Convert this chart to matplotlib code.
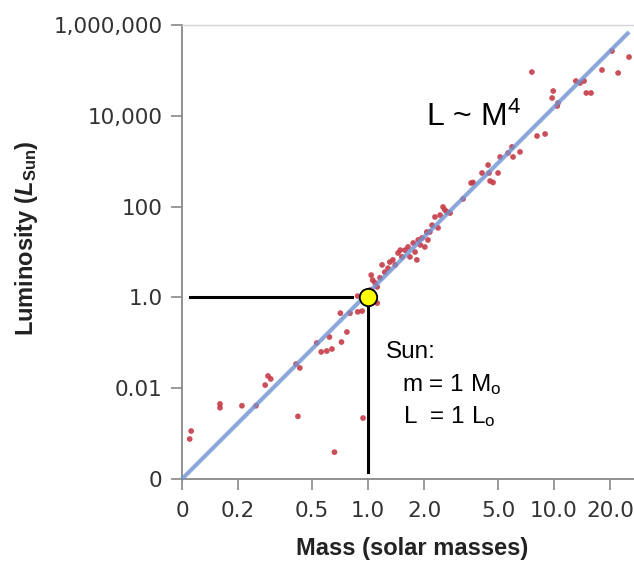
import matplotlib
matplotlib.use("Agg")
import matplotlib.pyplot as plt
from matplotlib.ticker import FixedLocator, NullLocator

# ── data (mass in solar masses, luminosity in L_sun) ──
star_mass = [
    0.112, 0.110, 0.16, 0.16, 0.21, 0.25, 0.28, 0.29, 0.30, 0.41, 0.43, 0.42,
    0.53, 0.56, 0.60, 0.62, 0.64, 0.66, 0.72, 0.77, 0.71, 0.80, 0.88, 0.93,
    0.94, 0.88, 1.12,
    1.04, 1.06, 1.09, 1.19, 1.23, 1.28, 1.36, 1.40, 1.45, 1.52, 1.58, 1.64,
    1.68, 1.75, 1.83, 1.86, 1.95, 2.02, 2.07, 2.21, 2.29, 2.44, 2.53, 2.59,
    2.38, 1.03, 1.12, 1.16, 1.31, 1.49, 1.79, 1.91, 2.15, 2.10,
    2.66, 2.76, 3.24, 3.58, 3.67, 4.10, 4.42, 4.47, 4.53, 4.70, 5.0, 5.13,
    5.66, 5.94, 6.02, 6.56, 8.1, 8.95,
    7.6, 9.9, 9.76, 10.4, 10.5, 13.1, 13.8, 14.5, 14.9, 15.8, 18.1, 20.5,
    22.1, 25.3,
]
star_lum = [
    1.14e-3, 7.6e-4, 4.5e-3, 3.7e-3, 4.1e-3, 4.1e-3, 1.17e-2, 1.86e-2, 1.6e-2,
    0.034, 0.028, 2.4e-3,
    0.099, 0.063, 0.066, 0.134, 0.073, 3.9e-4, 0.104, 0.173, 0.45, 0.45, 0.48,
    0.50, 2.2e-3, 1.07, 0.75,
    3.1, 2.4, 2.1, 5.2, 3.6, 4.4, 6.7, 5.2, 9.5, 7.8, 11, 12.9,
    7.8, 15.8, 6.7, 18.4, 20.3, 12.9, 27.6, 39, 59, 65, 98, 84,
    34, 1.46, 1.7, 2.7, 6.0, 11, 10, 14.3, 27.6, 18.4,
    76, 72, 147, 331, 340, 550, 824, 550, 366, 340, 550, 1240,
    1520, 2060, 1240, 1600, 3590, 3970,
    92000, 35200, 24700, 16400, 19100, 58400, 52700, 58400, 31800, 31800,
    102000, 267000, 87700, 197000,
]

# L ~ M^4 reference line (end points as drawn)
fit_mass = [0.1, 25.3]
fit_lum = [1e-4, 7e5]

# the Sun and its guide lines
sun_mass, sun_lum = 1.0, 1.0
guide_h_mass = [0.110, 0.82]
guide_v_lum = [0.68, 1.43e-4]

x_ticks = [0.1, 0.2, 0.5, 1, 2, 5, 10, 20]
x_labels = ["0", "0.2", "0.5", "1.0", "2.0", "5.0", "10.0", "20.0"]
y_ticks = [1e-4, 1e-2, 1, 1e2, 1e4, 1e6]
y_labels = ["0", "0.01", "1.0", "100", "10,000", "1,000,000"]

plt.rcParams["mathtext.fontset"] = "custom"
plt.rcParams["mathtext.rm"] = "Liberation Sans"
plt.rcParams["mathtext.it"] = "Liberation Sans:italic"
plt.rcParams["mathtext.bf"] = "Liberation Sans:bold"
plt.rcParams["mathtext.bfit"] = "Liberation Sans:italic:bold"

fig = plt.figure(figsize=(6.34, 5.62), dpi=100)
ax = fig.add_axes([182 / 634, 1 - 479 / 562, 452 / 634, 454 / 562])

ax.set_xscale("log")
ax.set_yscale("log")
ax.set_xlim(0.1, 26.9)
ax.set_ylim(1e-4, 1e6)

# stars
ax.scatter(star_mass, star_lum, s=17, color="#c63c48", alpha=0.9,
           edgecolors="none", zorder=2)

# fit line (semi-transparent, on top of the points)
ax.plot(fit_mass, fit_lum, color="#6f93d2", lw=3.0, alpha=0.8,
        solid_capstyle="butt", zorder=3, clip_on=False)

# guide lines to the Sun
ax.plot(guide_h_mass, [sun_lum, sun_lum], color="black", lw=2.2, zorder=4)
ax.plot([sun_mass, sun_mass], guide_v_lum, color="black", lw=2.2, zorder=4)
ax.plot([sun_mass], [sun_lum], marker="o", ms=12.5, mfc="#ffff00",
        mec="black", mew=1.3, zorder=5)

# annotations
txt = dict(family="Liberation Sans", fontsize=17.5, color="black",
           transform=ax.transAxes, va="baseline", ha="left")
ax.text(0.451, 0.2665, "Sun:", **txt)
ax.text(0.487, 0.194, r"m = 1 M$_\mathrm{o}$", **txt)
ax.text(0.489, 0.123, r"L  = 1 L$_\mathrm{o}$", **txt)
ax.text(0.540, 0.7775, r"L ~ M$^4$", family="Liberation Sans", fontsize=23,
        transform=ax.transAxes, va="baseline", ha="left")

# ticks
ax.xaxis.set_major_locator(FixedLocator(x_ticks))
ax.xaxis.set_minor_locator(NullLocator())
ax.set_xticklabels(x_labels)
ax.yaxis.set_major_locator(FixedLocator(y_ticks))
ax.yaxis.set_minor_locator(NullLocator())
ax.set_yticklabels(y_labels)
ax.tick_params(axis="both", length=8, width=1.2, color="#888888",
               labelsize=15.5, labelcolor="#333333")
ax.tick_params(axis="x", pad=8)
ax.tick_params(axis="y", pad=6)

# spines
ax.spines["right"].set_visible(False)
ax.spines["top"].set_color("#d4d4d4")
ax.spines["top"].set_linewidth(1.0)
for side in ["left", "bottom"]:
    ax.spines[side].set_color("#888888")
    ax.spines[side].set_linewidth(1.3)

# axis labels
ax.set_xlabel("Mass (solar masses)", family="Liberation Sans",
              fontweight="bold", fontsize=17, color="#222222")
ax.xaxis.set_label_coords(0.510, -0.127)
ax.set_ylabel(r"Luminosity ($\mathbfit{L}_{\mathbf{Sun}}$)",
              family="Liberation Sans", fontweight="bold", fontsize=17,
              color="#222222")
ax.yaxis.set_label_coords(-0.314, 0.531)

fig.savefig("out.png", dpi=100)
